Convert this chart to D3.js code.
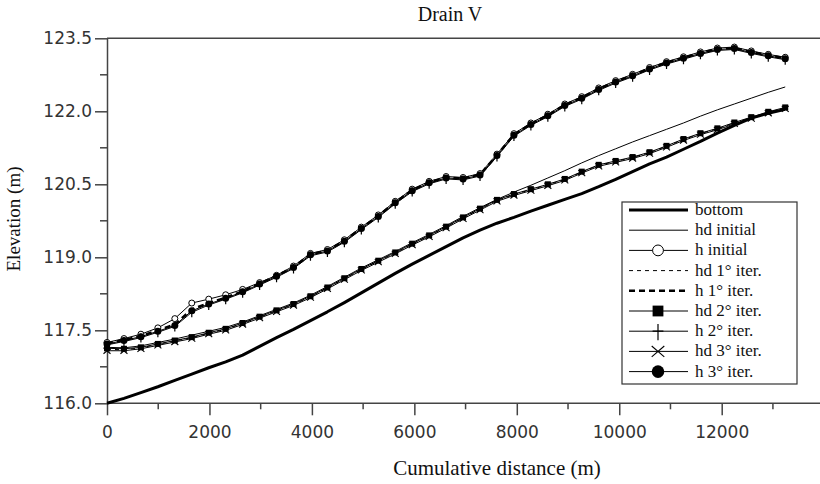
<!DOCTYPE html>
<html>
<head>
<meta charset="utf-8">
<script src="https://cdn.jsdelivr.net/npm/d3@7"></script>
<style>
  body { margin: 0; background: #fff; }
  .tick text { font-family: "DejaVu Sans", sans-serif; font-size: 17px; fill: #333; }
</style>
</head>
<body>
<div id="chart"></div>
<script>
// Data
const distance = [0, 331, 662, 993, 1324, 1655, 1986, 2317, 2648, 2979, 3310, 3641, 3972, 4303, 4634, 4965, 5296, 5627, 5958, 6289,
  6620, 6951, 7282, 7613, 7944, 8275, 8606, 8937, 9268, 9599, 9930, 10261, 10592, 10923, 11254, 11585, 11916, 12247, 12578, 12909, 13240];

const bottom = [116.00, 116.10, 116.22, 116.34, 116.47, 116.60, 116.73, 116.85, 116.99, 117.17, 117.35, 117.52, 117.70, 117.88, 118.07, 118.27, 118.47, 118.67, 118.86, 119.04,
  119.22, 119.40, 119.56, 119.70, 119.82, 119.95, 120.07, 120.19, 120.31, 120.45, 120.60, 120.76, 120.92, 121.06, 121.22, 121.38, 121.55, 121.71, 121.86, 121.96, 122.04];

const hdInitial = [117.15, 117.14, 117.18, 117.25, 117.32, 117.40, 117.48, 117.56, 117.67, 117.80, 117.93, 118.06, 118.22, 118.40, 118.59, 118.78, 118.95, 119.12, 119.30, 119.47,
  119.65, 119.84, 120.02, 120.19, 120.34, 120.48, 120.63, 120.78, 120.94, 121.09, 121.23, 121.37, 121.50, 121.63, 121.76, 121.90, 122.03, 122.15, 122.27, 122.39, 122.50];

const hInitial = [117.25, 117.33, 117.42, 117.55, 117.74, 118.06, 118.14, 118.23, 118.34, 118.48, 118.63, 118.82, 119.08, 119.16, 119.36, 119.62, 119.87, 120.15, 120.40, 120.56,
  120.66, 120.64, 120.72, 121.12, 121.54, 121.76, 121.94, 122.15, 122.30, 122.48, 122.63, 122.76, 122.90, 123.02, 123.12, 123.22, 123.30, 123.32, 123.24, 123.17, 123.11];

const hd1 = [117.11, 117.10, 117.14, 117.21, 117.28, 117.35, 117.44, 117.52, 117.64, 117.77, 117.90, 118.03, 118.19, 118.37, 118.56, 118.75, 118.92, 119.09, 119.27, 119.44,
  119.62, 119.81, 119.99, 120.17, 120.29, 120.39, 120.49, 120.60, 120.75, 120.89, 120.97, 121.05, 121.15, 121.28, 121.42, 121.54, 121.64, 121.76, 121.87, 121.98, 122.07];

const h1 = [117.23, 117.30, 117.38, 117.50, 117.62, 117.93, 118.06, 118.17, 118.30, 118.46, 118.62, 118.80, 119.06, 119.14, 119.34, 119.60, 119.85, 120.13, 120.38, 120.54,
  120.64, 120.62, 120.70, 121.10, 121.52, 121.74, 121.92, 122.13, 122.28, 122.46, 122.61, 122.74, 122.88, 123.00, 123.10, 123.20, 123.28, 123.30, 123.22, 123.15, 123.09];

const hd2 = [117.13, 117.12, 117.15, 117.22, 117.29, 117.36, 117.45, 117.53, 117.65, 117.78, 117.91, 118.04, 118.20, 118.38, 118.57, 118.76, 118.93, 119.10, 119.28, 119.45,
  119.63, 119.82, 120.00, 120.18, 120.30, 120.40, 120.50, 120.61, 120.76, 120.90, 120.98, 121.06, 121.16, 121.29, 121.43, 121.55, 121.65, 121.77, 121.88, 121.99, 122.08];

const h2 = [117.20, 117.27, 117.35, 117.46, 117.58, 117.87, 118.02, 118.14, 118.27, 118.43, 118.59, 118.77, 119.03, 119.11, 119.31, 119.57, 119.82, 120.10, 120.35, 120.51,
  120.61, 120.59, 120.67, 121.07, 121.49, 121.71, 121.89, 122.10, 122.25, 122.43, 122.58, 122.71, 122.85, 122.97, 123.07, 123.17, 123.25, 123.27, 123.19, 123.12, 123.06];

const hd3 = [117.08, 117.08, 117.12, 117.19, 117.26, 117.33, 117.42, 117.50, 117.62, 117.75, 117.88, 118.01, 118.17, 118.35, 118.54, 118.73, 118.90, 119.07, 119.25, 119.42,
  119.60, 119.79, 119.97, 120.15, 120.27, 120.37, 120.47, 120.58, 120.73, 120.87, 120.95, 121.03, 121.13, 121.26, 121.40, 121.52, 121.62, 121.74, 121.85, 121.96, 122.05];

const h3 = [117.22, 117.29, 117.37, 117.48, 117.60, 117.90, 118.04, 118.16, 118.29, 118.45, 118.61, 118.79, 119.05, 119.13, 119.33, 119.59, 119.84, 120.12, 120.37, 120.53,
  120.63, 120.61, 120.69, 121.09, 121.51, 121.73, 121.91, 122.12, 122.27, 122.45, 122.60, 122.73, 122.87, 122.99, 123.09, 123.19, 123.27, 123.29, 123.21, 123.14, 123.08];

const xMajorTicks = [0, 2000, 4000, 6000, 8000, 10000, 12000];
const xMinorTicks = [1000, 3000, 5000, 7000, 9000, 11000, 13000];
const yMajorTicks = [116, 117.5, 119, 120.5, 122, 123.5];
const yMinorTicks = [116.75, 118.25, 119.75, 121.25, 122.75];

// Series table (values + how each one is drawn)
const series = [
  { name: "bottom",        values: bottom,    width: 3,   dash: null,  marker: null },
  { name: "hd initial",    values: hdInitial, width: 1,   dash: null,  marker: null },
  { name: "h initial",     values: hInitial,  width: 1,   dash: null,  marker: "circle" },
  { name: "hd 1° iter.",   values: hd1,       width: 1,   dash: "4,4", marker: null },
  { name: "h 1° iter.",    values: h1,        width: 2.5, dash: "6,4", marker: null },
  { name: "hd 2° iter.",   values: hd2,       width: 1,   dash: null,  marker: "square" },
  { name: "h 2° iter.",    values: h2,        width: 1,   dash: null,  marker: "plus" },
  { name: "hd 3° iter.",   values: hd3,       width: 1,   dash: null,  marker: "cross" },
  { name: "h 3° iter.",    values: h3,        width: 1,   dash: null,  marker: "dot" }
];

const serif = '"Liberation Serif"';

const W = 820, H = 484;
const margin = { top: 38.3, left: 107 },
      height = 365;

const svg = d3.select("#chart")
  .append("svg")
    .attr("width", W)
    .attr("height", H);

const x = d3.scaleLinear()
    .domain([0, 14000])
    .range([margin.left, margin.left + 14000 * 0.051225]);

const y = d3.scaleLinear()
    .domain([116, 123.5])
    .range([margin.top + height, margin.top]);

// top border
svg.append("line")
    .attr("x1", margin.left).attr("x2", W)
    .attr("y1", y(123.5)).attr("y2", y(123.5))
    .attr("stroke", "#444").attr("stroke-width", 1.5);

// axes
const xAxis = svg.append("g")
    .attr("transform", `translate(0,${y(116)})`)
    .call(d3.axisBottom(x).tickValues(xMajorTicks).tickFormat(d3.format("d")).tickSize(12).tickPadding(11).tickSizeOuter(0));
xAxis.select(".domain").remove();
xAxis.append("line").attr("x1", margin.left).attr("x2", W).attr("stroke", "#444").attr("stroke-width", 1.5);
xAxis.selectAll(".minor").data(xMinorTicks).join("line")
    .attr("class", "minor")
    .attr("x1", d => x(d)).attr("x2", d => x(d))
    .attr("y1", 0).attr("y2", 6)
    .attr("stroke", "#444").attr("stroke-width", 1.5);

const yAxis = svg.append("g")
    .attr("transform", `translate(${margin.left},0)`)
    .call(d3.axisLeft(y).tickValues(yMajorTicks).tickFormat(d3.format(".1f")).tickSize(12).tickPadding(3).tickSizeOuter(0));
yAxis.select(".domain").attr("stroke", "#444").attr("stroke-width", 1.5);
yAxis.selectAll(".minor").data(yMinorTicks).join("line")
    .attr("class", "minor")
    .attr("x1", 0).attr("x2", -7)
    .attr("y1", d => y(d)).attr("y2", d => y(d))
    .attr("stroke", "#444").attr("stroke-width", 1.5);
svg.selectAll(".tick line").attr("stroke", "#444").attr("stroke-width", 1.5);

// labels
svg.append("text")
    .attr("x", 450).attr("y", 21)
    .attr("text-anchor", "middle")
    .style("font-family", serif).style("font-size", "20px").style("fill", "#111")
    .text("Drain V");

svg.append("text")
    .attr("x", 497).attr("y", 475)
    .attr("text-anchor", "middle")
    .style("font-family", serif).style("font-size", "21px").style("fill", "#111")
    .text("Cumulative distance (m)");

svg.append("text")
    .attr("transform", "rotate(-90)")
    .attr("x", -219).attr("y", 20)
    .attr("text-anchor", "middle")
    .style("font-family", serif).style("font-size", "19px").style("fill", "#111")
    .text("Elevation (m)");

// marker drawing
function drawMarker(g, type, cx, cy, s) {
  if (type === "circle") {
    g.append("circle").attr("cx", cx).attr("cy", cy).attr("r", 3 * s)
      .attr("fill", "#fff").attr("stroke", "#000").attr("stroke-width", 1);
  } else if (type === "dot") {
    g.append("circle").attr("cx", cx).attr("cy", cy).attr("r", 3.5 * s).attr("fill", "#000");
  } else if (type === "square") {
    g.append("rect").attr("x", cx - 3 * s).attr("y", cy - 3 * s)
      .attr("width", 6 * s).attr("height", 6 * s).attr("fill", "#000");
  } else if (type === "plus") {
    g.append("path")
      .attr("d", `M${cx},${cy - 4 * s}V${cy + 5 * s}M${cx - 3 * s},${cy}H${cx + 3 * s}`)
      .attr("stroke", "#000").attr("stroke-width", 1.2).attr("fill", "none");
  } else if (type === "cross") {
    g.append("path")
      .attr("d", `M${cx - 3.5 * s},${cy - 3 * s}L${cx + 3.5 * s},${cy + 3 * s}M${cx - 3.5 * s},${cy + 3 * s}L${cx + 3.5 * s},${cy - 3 * s}`)
      .attr("stroke", "#000").attr("stroke-width", 1.1).attr("fill", "none");
  }
}

const line = d3.line()
    .x(d => x(d[0]))
    .y(d => y(d[1]));

const plot = svg.append("g").attr("class", "plot");

series.forEach(s => {
  const pts = distance.map((d, i) => [d, s.values[i]]);
  plot.append("path")
    .datum(pts)
    .attr("d", line)
    .attr("fill", "none")
    .attr("stroke", "#000")
    .attr("stroke-width", s.width)
    .attr("stroke-dasharray", s.dash)
    .attr("stroke-linejoin", "round");
});

series.forEach(s => {
  if (!s.marker) return;
  const mg = plot.append("g");
  distance.forEach((d, i) => drawMarker(mg, s.marker, x(d), y(s.values[i]), 1));
});

// legend
const legend = svg.append("g")
    .attr("transform", "translate(622,202)");

legend.append("rect")
    .attr("width", 175).attr("height", 182)
    .attr("fill", "#fff")
    .attr("stroke", "#333").attr("stroke-width", 1.2);

series.forEach((s, i) => {
  const ly = 8 + i * 20.2;
  legend.append("line")
    .attr("x1", 7).attr("x2", 66)
    .attr("y1", ly).attr("y2", ly)
    .attr("stroke", "#000")
    .attr("stroke-width", s.width)
    .attr("stroke-dasharray", s.dash);
  if (s.marker) drawMarker(legend, s.marker, 36, ly, 1.8);
  legend.append("text")
    .attr("x", 73).attr("y", ly + 5)
    .style("font-family", serif).style("font-size", "17px").style("fill", "#111")
    .text(s.name);
});
</script>
</body>
</html>
